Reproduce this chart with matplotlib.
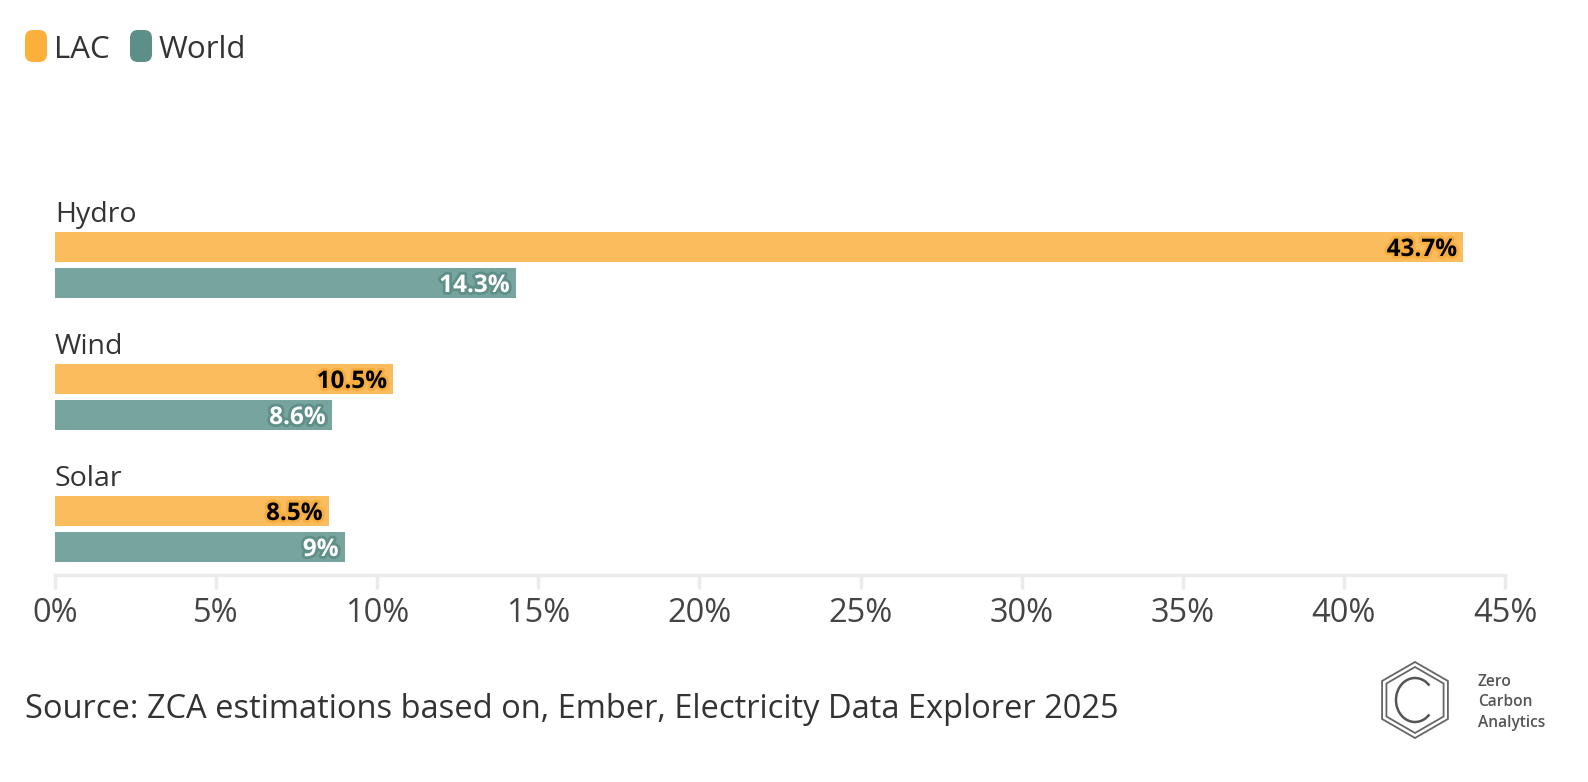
import matplotlib
matplotlib.use("Agg")
import matplotlib.pyplot as plt
import matplotlib.patheffects as pe
from matplotlib.patches import FancyBboxPatch, RegularPolygon, Arc
import numpy as np

categories = ["Hydro", "Wind", "Solar"]
lac = [43.7, 10.5, 8.5]
world = [14.3, 8.6, 9.0]
lac_labels = ["43.7%", "10.5%", "8.5%"]
world_labels = ["14.3%", "8.6%", "9%"]
xticks = [0, 5, 10, 15, 20, 25, 30, 35, 40, 45]
xtick_labels = ["0%", "5%", "10%", "15%", "20%", "25%", "30%", "35%", "40%", "45%"]
series_names = ["LAC", "World"]

FONT = ["Open Sans", "DejaVu Sans"]
plt.rcParams['font.family'] = FONT

W, H = 1588, 782
fig = plt.figure(figsize=(W / 100, H / 100), dpi=100)

ax_left, ax_right = 55, 1505
ax_top, ax_bottom = 150, 575
ax = fig.add_axes([ax_left / W, 1 - ax_bottom / H, (ax_right - ax_left) / W, (ax_bottom - ax_top) / H])

unit = 132.0
y0 = (ax_top - 247) / unit
y1 = (ax_bottom - 247) / unit
ax.set_ylim(y1, y0)
ax.set_xlim(0, 45)

lac_bar = "#FBBC5E"
lac_edge = "#F6AC3F"
world_bar = "#78A49E"
world_edge = "#5E8F88"

pos = np.arange(len(categories))
bh = 30 / unit
off = 36 / unit
ax.barh(pos, lac, height=bh, color=lac_bar, align="center")
ax.barh(pos + off, world, height=bh, color=world_bar, align="center")

pad = 0.2
for i in range(len(categories)):
    ax.text(lac[i] - pad, pos[i], lac_labels[i], ha="right", va="center_baseline",
            fontsize=17.5, fontweight="bold", color="black",
            path_effects=[pe.withStroke(linewidth=4, foreground=lac_edge)])
    ax.text(world[i] - pad, pos[i] + off, world_labels[i], ha="right", va="center_baseline",
            fontsize=17.5, fontweight="bold", color="white",
            path_effects=[pe.withStroke(linewidth=4, foreground=world_edge)])
    ax.text(0, pos[i] - 36 / unit, categories[i], ha="left", va="center_baseline",
            fontsize=20.5, color="#333333")

for s in ["top", "right", "left"]:
    ax.spines[s].set_visible(False)
ax.spines["bottom"].set_color("#EBEBEB")
ax.spines["bottom"].set_linewidth(2.5)
ax.set_yticks([])
ax.set_xticks(xticks)
ax.set_xticklabels(xtick_labels, fontsize=23.5, color="#444444")
ax.tick_params(axis="x", length=10, width=2.5, color="#EBEBEB", pad=6)

leg_colors = ["#FBB03B", "#5B8F88"]
leg_x = [25, 130]
for name, c, x in zip(series_names, leg_colors, leg_x):
    fig.patches.append(FancyBboxPatch(((x) / W, 1 - 62 / H), 22 / W, 32 / H,
                                      boxstyle="round,pad=0,rounding_size=0.005",
                                      transform=fig.transFigure, facecolor=c, edgecolor="none",
                                      mutation_aspect=W / H))
    fig.text((x + 29) / W, 1 - 46 / H, name, ha="left", va="center_baseline",
             fontsize=22.5, color="#333333")

fig.text(25 / W, 1 - 706 / H, "Source: ZCA estimations based on, Ember, Electricity Data Explorer 2025",
         ha="left", va="center_baseline", fontsize=23.5, color="#333333")

lax = fig.add_axes([1370 / W, 1 - 745 / H, 90 / W, 90 / H])
lax.set_xlim(-45, 45)
lax.set_ylim(-45, 45)
lax.set_aspect("equal")
lax.axis("off")
lax.add_patch(RegularPolygon((0, 0), 6, radius=38, orientation=0, fill=False, edgecolor="#666666", lw=1.3))
lax.add_patch(RegularPolygon((0, 0), 6, radius=33, orientation=0, fill=False, edgecolor="#666666", lw=1.3))
lax.add_patch(Arc((0, 0), 38, 44, theta1=45, theta2=315, edgecolor="#555555", lw=1.8))
for k, t in enumerate(["Zero", "Carbon", "Analytics"]):
    fig.text(1478 / W, 1 - (680 + k * 20.5) / H, t, ha="left", va="center_baseline",
             fontsize=11.2, color="#555555", fontweight="semibold")

fig.savefig("out.png", dpi=100, facecolor="white")
